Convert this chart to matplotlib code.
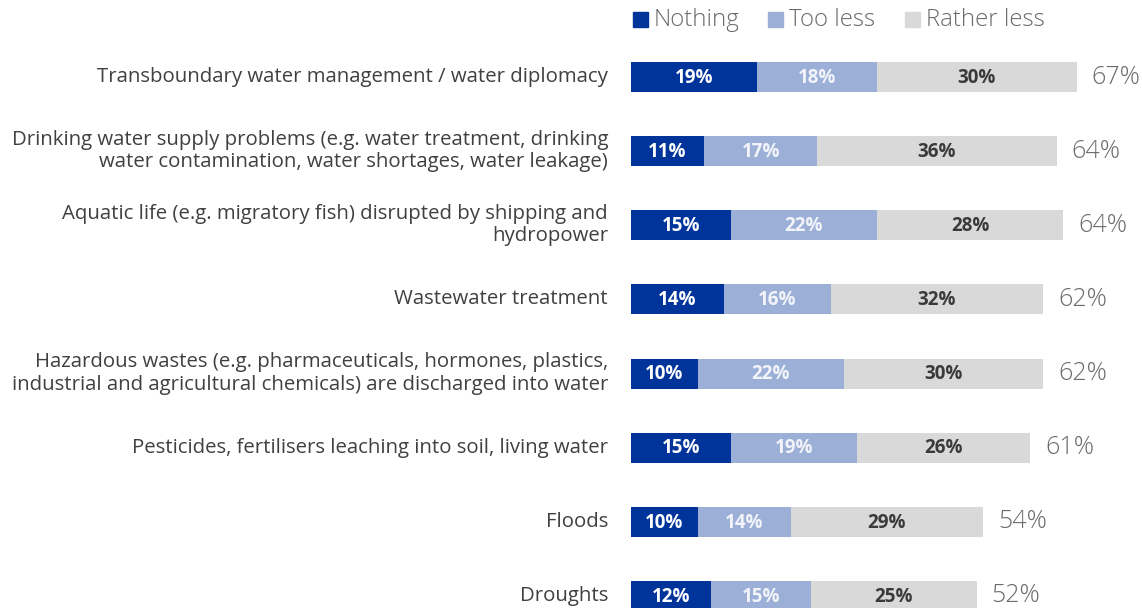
import matplotlib

matplotlib.use("Agg")
import matplotlib.pyplot as plt
from matplotlib.patches import Rectangle

categories = [
    "Transboundary water management / water diplomacy",
    "Drinking water supply problems (e.g. water treatment, drinking\nwater contamination, water shortages, water leakage)",
    "Aquatic life (e.g. migratory fish) disrupted by shipping and\nhydropower",
    "Wastewater treatment",
    "Hazardous wastes (e.g. pharmaceuticals, hormones, plastics,\nindustrial and agricultural chemicals) are discharged into water",
    "Pesticides, fertilisers leaching into soil, living water",
    "Floods",
    "Droughts",
]
nothing = [19, 11, 15, 14, 10, 15, 10, 12]
too_less = [18, 17, 22, 16, 22, 19, 14, 15]
rather_less = [30, 36, 28, 32, 30, 26, 29, 25]
totals = [67, 64, 64, 62, 62, 61, 54, 52]

series = ["Nothing", "Too less", "Rather less"]
colors = ["#00349A", "#9BAFD7", "#D9D9D9"]
text_colors = ["white", "#F2F4FA", "#3A3A3A"]

W, H = 1142, 608
fig = plt.figure(figsize=(W / 100, H / 100), dpi=100)

# axes spans from the bar origin to the right edge, full height
x0_px, px_per_pct = 631, 6.65
row0_px, row_step_px = 77, 74.14
ax = fig.add_axes([x0_px / W, 0, 1 - x0_px / W, 1])
ax.set_xlim(0, (W - x0_px) / px_per_pct)
ax.set_ylim((H - row0_px) / row_step_px, -row0_px / row_step_px)
ax.axis("off")

label_font = ["Open Sans", "DejaVu Sans"]
num_font = ["Open Sans", "DejaVu Sans"]
bar_h = 30 / row_step_px

for i, cat in enumerate(categories):
    left = 0
    for vals, c, tc in zip((nothing, too_less, rather_less), colors, text_colors):
        v = vals[i]
        ax.barh(i, v, left=left, height=bar_h, color=c, edgecolor="none")
        ax.text(left + v / 2, i + 0.01, f"{v}%", ha="center", va="center",
                color=tc, fontsize=13.5, fontweight="bold", family=num_font)
        left += v
    ax.text(left + 15 / px_per_pct, i, f"{totals[i]}%", ha="left", va="center",
            color="#6B6B6B", fontsize=18, family=label_font, fontweight="light")
    ax.text(-23 / px_per_pct, i, cat, ha="right", va="center", color="#404040",
            fontsize=14.7, family=label_font, linespacing=1.15, clip_on=False)

# legend along the top
legend_x = [633, 768, 905]
for name, c, lx in zip(series, colors, legend_x):
    fig.patches.append(Rectangle((lx / W, 1 - 27 / H), 15 / W, 15 / H,
                                 transform=fig.transFigure, color=c))
    fig.text((lx + 21) / W, 1 - 20 / H, name, ha="left", va="center",
             color="#6B6B6B", fontsize=17.3, family=label_font, fontweight="light")

fig.savefig("out.png", dpi=100)
